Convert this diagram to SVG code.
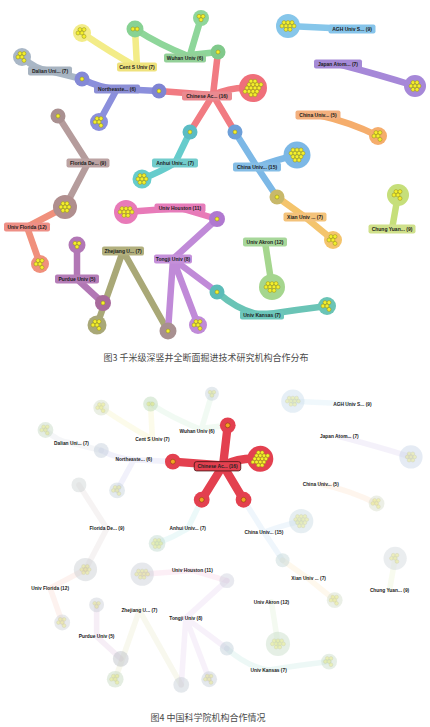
<svg xmlns="http://www.w3.org/2000/svg" xmlns:xlink="http://www.w3.org/1999/xlink" width="430" height="727" viewBox="0 0 430 727">
<style>
.y{fill:#f4ef2a;stroke:#8f8a1c;stroke-width:.5}
.e{fill:none;stroke-width:6.5;stroke-linecap:round;stroke-linejoin:round}
.lbl text{font-family:"Liberation Sans",Arial,sans-serif;font-weight:bold;font-size:5px;fill:#1c1c1c;text-anchor:middle}
.lbl rect{rx:2;ry:2;height:9px}
.fe{fill:none;stroke-width:6;stroke-linecap:round;stroke-linejoin:round;opacity:.12}
.fn circle{opacity:.45}
.fn use{opacity:.25}
.ft{font-family:"Liberation Sans",Arial,sans-serif;font-weight:bold;font-size:5.2px;fill:#222;text-anchor:middle}
.re{fill:none;stroke:#e3404f;stroke-width:9;stroke-linecap:round;stroke-linejoin:round}
.od{fill:#f3a520;stroke:#8a3412;stroke-width:.6}
.cap{font-family:"Noto Sans CJK SC","Noto Sans",sans-serif;font-size:9px;fill:#4a4a4a;text-anchor:middle}
</style>
<defs>
<circle id="yd" r="2" class="y"/>
<g id="c1"><use href="#yd"/></g>
<g id="c2"><use href="#yd" x="-2.1"/><use href="#yd" x="2.1"/></g>
<g id="c3"><use href="#yd" x="-2" y="-1.7"/><use href="#yd" x="2" y="-1.7"/><use href="#yd" x="0" y="1.8"/></g>
<g id="c5"><use href="#yd" x="-2" y="-3.4"/><use href="#yd" x="2" y="-3.4"/><use href="#yd" x="-4" y="0"/><use href="#yd" x="0" y="0"/><use href="#yd" x="2" y="3.4"/></g>
<g id="c7"><use href="#yd" x="-2" y="-3.4"/><use href="#yd" x="2" y="-3.4"/><use href="#yd" x="-4" y="0"/><use href="#yd" x="0" y="0"/><use href="#yd" x="4" y="0"/><use href="#yd" x="-2" y="3.4"/><use href="#yd" x="2" y="3.4"/></g>
<g id="c9"><use href="#yd" x="-4" y="-3.4"/><use href="#yd" x="0" y="-3.4"/><use href="#yd" x="4" y="-3.4"/><use href="#yd" x="-6" y="0"/><use href="#yd" x="-2" y="0"/><use href="#yd" x="2" y="0"/><use href="#yd" x="6" y="0"/><use href="#yd" x="-2" y="3.4"/><use href="#yd" x="2" y="3.4"/></g>
<g id="c12"><use href="#yd" x="-4" y="-5.1"/><use href="#yd" x="0" y="-5.1"/><use href="#yd" x="4" y="-5.1"/><use href="#yd" x="-6" y="-1.7"/><use href="#yd" x="-2" y="-1.7"/><use href="#yd" x="2" y="-1.7"/><use href="#yd" x="6" y="-1.7"/><use href="#yd" x="-4" y="1.7"/><use href="#yd" x="0" y="1.7"/><use href="#yd" x="4" y="1.7"/><use href="#yd" x="-2" y="5.1"/><use href="#yd" x="2" y="5.1"/></g>
<g id="c16"><use href="#yd" x="-2" y="-6.8"/><use href="#yd" x="2" y="-6.8"/><use href="#yd" x="-4" y="-3.4"/><use href="#yd" x="0" y="-3.4"/><use href="#yd" x="4" y="-3.4"/><use href="#yd" x="-6" y="0"/><use href="#yd" x="-2" y="0"/><use href="#yd" x="2" y="0"/><use href="#yd" x="6" y="0"/><use href="#yd" x="-4" y="3.4"/><use href="#yd" x="0" y="3.4"/><use href="#yd" x="4" y="3.4"/><use href="#yd" x="-2" y="6.8"/><use href="#yd" x="2" y="6.8"/><use href="#yd" x="8" y="-3.4"/><use href="#yd" x="-8" y="3.4"/></g>
</defs>
<rect width="430" height="727" fill="#ffffff"/>

<!-- ================= FIGURE 3 ================= -->
<g id="fig3">
<g id="connectors">
<path class="e" stroke="#f17b82" d="M213,95 L218,52 M213,95 L159,91 M213,95 Q232,86 253,88 M213,95 L190,132 M213,95 L235,132"/>
<path class="e" stroke="#8ed69a" d="M135,29 Q160,45 188,56 M201,18 Q195,38 190,55 M190,55 L218,52"/>
<path class="e" stroke="#f3ec88" d="M82,33 Q110,52 137,67 M137,67 L135,29"/>
<path class="e" stroke="#a9b7c6" d="M22,57 Q36,70 50,71 L82,79"/>
<path class="e" stroke="#8b8fdc" d="M82,79 Q100,88 117,89 L159,91 M117,89 L99,122"/>
<path class="e" stroke="#66cccc" d="M190,132 L175,163 Q160,172 142,179"/>
<path class="e" stroke="#7cb8e6" d="M235,132 L257,167 Q275,160 297,155 M257,167 L277,197"/>
<path class="e" stroke="#f4c46c" d="M277,197 L305,217 L333,240"/>
<path class="e" stroke="#86c6ea" d="M288,26 L352,29"/>
<path class="e" stroke="#a688d8" d="M338,64 Q380,75 415,86"/>
<path class="e" stroke="#f5ad6c" d="M318,115 Q350,122 378,136"/>
<path class="e" stroke="#c6df7a" d="M398,195 L392,229"/>
<path class="e" stroke="#a5d68e" d="M265,242 L272,287"/>
<path class="e" stroke="#6ac4b6" d="M217,292 Q240,312 262,315 Q295,310 327,306"/>
<path class="e" stroke="#b59c9c" d="M58,116 L88,163 L65,207"/>
<path class="e" stroke="#f0907c" d="M65,207 L27,227 L40,264"/>
<path class="e" stroke="#b277b5" d="M77,245 L77,279 L103,303"/>
<path class="e" stroke="#a9a877" d="M123,251 L97,325 M123,251 L168,331"/>
<path class="e" stroke="#e87ab8" d="M126,212 L180,208 L217,219"/>
<path class="e" stroke="#c08ad8" d="M217,219 L173,259 M173,259 L168,331 M173,259 L198,325 M173,259 L217,292"/>
</g>

<!-- cluster / junction nodes -->
<g id="n-red-cluster" transform="translate(253,88)"><circle r="14" fill="#ef6f7a"/><use href="#c16"/></g>
<g id="n-wuhan-dot" transform="translate(218,52)"><circle r="7.5" fill="#80c98b"/><use href="#c1"/></g>
<g id="n-ne-dot" transform="translate(159,91)"><circle r="7.5" fill="#7f84d2"/><use href="#c1"/></g>
<g id="n-anhui-dot" transform="translate(190,132)"><circle r="7.5" fill="#5bbcc4"/><use href="#c1"/></g>
<g id="n-china15-dot" transform="translate(235,132)"><circle r="7.5" fill="#6d9fd8"/><use href="#c1"/></g>
<g id="n-wuhan-c1" transform="translate(135,29)"><circle r="8.5" fill="#88d293"/><use href="#c2"/></g>
<g id="n-wuhan-c2" transform="translate(201,18)"><circle r="8" fill="#8ed69a"/><use href="#c3"/></g>
<g id="n-cents-c" transform="translate(82,33)"><circle r="9" fill="#f3ec88"/><use href="#c5"/></g>
<g id="n-dalian-c" transform="translate(22,57)"><circle r="9" fill="#a9b7c6"/><use href="#c5"/></g>
<g id="n-dalian-dot" transform="translate(82,79)"><circle r="7.5" fill="#8489d6"/><use href="#c1"/></g>
<g id="n-ne-c" transform="translate(99,122)"><circle r="9" fill="#8b8fdc"/><use href="#c5"/></g>
<g id="n-anhui-c" transform="translate(142,179)"><circle r="9.5" fill="#66cccc"/><use href="#c7"/></g>
<g id="n-china15-c" transform="translate(297,155)"><circle r="13.5" fill="#7cb8e6"/><use href="#c12"/></g>
<g id="n-xian-dot" transform="translate(277,197)"><circle r="7.5" fill="#c8b86a"/><use href="#c1"/></g>
<g id="n-xian-c" transform="translate(333,240)"><circle r="9" fill="#f4c46c"/><use href="#c5"/></g>
<g id="n-agh-c" transform="translate(288,26)"><circle r="12" fill="#86c6ea"/><use href="#c9"/></g>
<g id="n-japan-c" transform="translate(415,86)"><circle r="11" fill="#a688d8"/><use href="#c7"/></g>
<g id="n-china5-c" transform="translate(378,136)"><circle r="9" fill="#f5ad6c"/><use href="#c5"/></g>
<g id="n-chung-c" transform="translate(398,195)"><circle r="11" fill="#c6df7a"/><use href="#c5"/></g>
<g id="n-akron-c" transform="translate(272,287)"><circle r="13" fill="#a5d68e"/><use href="#c9"/></g>
<g id="n-kansas-dot" transform="translate(217,292)"><circle r="7.5" fill="#5cbcb8"/><use href="#c1"/></g>
<g id="n-kansas-c" transform="translate(327,306)"><circle r="9" fill="#6ac4b6"/><use href="#c5"/></g>
<g id="n-flde-dot" transform="translate(58,116)"><circle r="7.5" fill="#a99090"/><use href="#c1"/></g>
<g id="n-flde-c" transform="translate(65,207)"><circle r="12" fill="#b08e8e"/><use href="#c7"/></g>
<g id="n-ufl-c" transform="translate(40,264)"><circle r="9" fill="#f0907c"/><use href="#c5"/></g>
<g id="n-purdue-c" transform="translate(77,245)"><circle r="8.5" fill="#b277b5"/><use href="#c3"/></g>
<g id="n-purdue-dot" transform="translate(103,303)"><circle r="8" fill="#a86a9c"/><use href="#c1"/></g>
<g id="n-zj-c" transform="translate(97,325)"><circle r="9.5" fill="#a9a877"/><use href="#c5"/></g>
<g id="n-zj-dot" transform="translate(168,331)"><circle r="8.5" fill="#a89090"/><use href="#c1"/></g>
<g id="n-houston-c" transform="translate(126,212)"><circle r="12" fill="#e87ab8"/><use href="#c9"/></g>
<g id="n-houston-dot" transform="translate(217,219)"><circle r="8" fill="#b078d0"/><use href="#c1"/></g>
<g id="n-tongji-c" transform="translate(198,325)"><circle r="9" fill="#c08ad8"/><use href="#c5"/></g>

<!-- institution labels -->
<g id="l-chinese" class="lbl"><rect x="182" y="91.5" width="50" fill="#ea8a90"/><text x="207" y="97.8">Chinese Ac... (16)</text></g>
<g id="l-wuhan" class="lbl"><rect x="164" y="53.5" width="42" fill="#93d098"/><text x="185" y="59.8">Wuhan Univ (6)</text></g>
<g id="l-cents" class="lbl"><rect x="117" y="62.5" width="40" fill="#efe27c"/><text x="137" y="68.8">Cent S Univ (7)</text></g>
<g id="l-dalian" class="lbl"><rect x="28" y="66.5" width="44" fill="#a7b3c0"/><text x="50" y="72.8">Dalian Uni... (7)</text></g>
<g id="l-ne" class="lbl"><rect x="94" y="84.5" width="46" fill="#8c8fd6"/><text x="117" y="90.8">Northeaste... (6)</text></g>
<g id="l-anhui" class="lbl"><rect x="152" y="158.5" width="46" fill="#72cccc"/><text x="175" y="164.8">Anhui Univ... (7)</text></g>
<g id="l-china15" class="lbl"><rect x="233" y="162.5" width="48" fill="#84bde6"/><text x="257" y="168.8">China Univ... (15)</text></g>
<g id="l-xian" class="lbl"><rect x="283.5" y="212.5" width="43" fill="#f3c27a"/><text x="305" y="218.8">Xian Univ ... (7)</text></g>
<g id="l-agh" class="lbl"><rect x="328.5" y="24.5" width="47" fill="#86c4ea"/><text x="352" y="30.8">AGH Univ S... (9)</text></g>
<g id="l-japan" class="lbl"><rect x="314" y="59.5" width="48" fill="#a58ad6"/><text x="338" y="65.8">Japan Atom... (7)</text></g>
<g id="l-china5" class="lbl"><rect x="295.5" y="110.5" width="45" fill="#f3b07e"/><text x="318" y="116.8">China Univ... (5)</text></g>
<g id="l-chung" class="lbl"><rect x="368.5" y="224.5" width="47" fill="#cfe08a"/><text x="392" y="230.8">Chung Yuan... (9)</text></g>
<g id="l-akron" class="lbl"><rect x="243" y="237.5" width="44" fill="#a7d79a"/><text x="265" y="243.8">Univ Akron (12)</text></g>
<g id="l-kansas" class="lbl"><rect x="240" y="310.5" width="44" fill="#6cc6ba"/><text x="262" y="316.8">Univ Kansas (7)</text></g>
<g id="l-flde" class="lbl"><rect x="66.5" y="158.5" width="43" fill="#bca3a3"/><text x="88" y="164.8">Florida De... (9)</text></g>
<g id="l-ufl" class="lbl"><rect x="4" y="222.5" width="46" fill="#ee8f86"/><text x="27" y="228.8">Univ Florida (12)</text></g>
<g id="l-purdue" class="lbl"><rect x="55" y="274.5" width="44" fill="#b57db8"/><text x="77" y="280.8">Purdue Univ (5)</text></g>
<g id="l-zj" class="lbl"><rect x="102" y="246.5" width="42" fill="#b2b07e"/><text x="123" y="252.8">Zhejiang U... (7)</text></g>
<g id="l-houston" class="lbl"><rect x="154.5" y="203.5" width="51" fill="#e67cba"/><text x="180" y="209.8">Univ Houston (11)</text></g>
<g id="l-tongji" class="lbl"><rect x="154" y="254.5" width="38" fill="#c590da"/><text x="173" y="260.8">Tongji Univ (8)</text></g>

<text id="cap3" class="cap" x="206" y="360.5">图3  千米级深竖井全断面掘进技术研究机构合作分布</text>
</g>

<!-- ================= FIGURE 4 ================= -->
<g id="fig4" transform="translate(25,377) scale(0.93)">
<g id="connectors-faded">
<path class="fe" stroke="#8ed69a" d="M135,29 Q160,45 188,56 M201,18 Q195,38 190,55 M190,55 L218,52"/>
<path class="fe" stroke="#e5dc50" d="M82,33 Q110,52 137,67 M137,67 L135,29"/>
<path class="fe" stroke="#a9b7c6" d="M22,57 Q36,70 50,71 L82,79"/>
<path class="fe" stroke="#8b8fdc" d="M82,79 Q100,88 117,89 L159,91 M117,89 L99,122"/>
<path class="fe" stroke="#66cccc" d="M190,132 L175,163 Q160,172 142,179"/>
<path class="fe" stroke="#7cb8e6" d="M235,132 L257,167 Q275,160 297,155 M257,167 L277,197"/>
<path class="fe" stroke="#f4c46c" d="M277,197 L305,217 L333,240"/>
<path class="fe" stroke="#86c6ea" d="M288,26 L352,29"/>
<path class="fe" stroke="#a688d8" d="M338,64 Q380,75 415,86"/>
<path class="fe" stroke="#f5ad6c" d="M318,115 Q350,122 378,136"/>
<path class="fe" stroke="#c6df7a" d="M398,195 L392,229"/>
<path class="fe" stroke="#a5d68e" d="M265,242 L272,287"/>
<path class="fe" stroke="#6ac4b6" d="M217,292 Q240,312 262,315 Q295,310 327,306"/>
<path class="fe" stroke="#b59c9c" d="M58,116 L88,163 L65,207"/>
<path class="fe" stroke="#f0907c" d="M65,207 L27,227 L40,264"/>
<path class="fe" stroke="#b277b5" d="M77,245 L77,279 L103,303"/>
<path class="fe" stroke="#c9c870" d="M123,251 L97,325 M123,251 L168,331"/>
<path class="fe" stroke="#e87ab8" d="M126,212 L180,208 L217,219"/>
<path class="fe" stroke="#c08ad8" d="M217,219 L173,259 M173,259 L168,331 M173,259 L198,325 M173,259 L217,292"/>
</g>
<g id="b-faded-nodes" class="fn">
<g id="b-wuhan-c1" transform="translate(135,29)"><circle r="8" fill="#b8d8b4"/><use href="#c2"/></g>
<g id="b-wuhan-c2" transform="translate(201,18)"><circle r="7.5" fill="#c4d0da"/><use href="#c3"/></g>
<g id="b-cents-c" transform="translate(82,33)"><circle r="8.5" fill="#d0dcc4"/><use href="#c5"/></g>
<g id="b-dalian-c" transform="translate(22,57)"><circle r="8.5" fill="#c4d6c0"/><use href="#c5"/></g>
<g id="b-dalian-dot" transform="translate(82,79)"><circle r="8" fill="#c0ccda"/></g>
<g id="b-ne-c" transform="translate(99,122)"><circle r="8.5" fill="#c4d0da"/><use href="#c5"/></g>
<g id="b-flde-dot" transform="translate(58,116)"><circle r="8" fill="#cdd2d2"/></g>
<g id="b-anhui-c" transform="translate(142,179)"><circle r="9" fill="#bcd8cc"/><use href="#c7"/></g>
<g id="b-china15-c" transform="translate(297,155)"><circle r="13" fill="#c8dae2"/><use href="#c12"/></g>
<g id="b-xian-dot" transform="translate(277,197)"><circle r="7.5" fill="#c0d4d4"/></g>
<g id="b-xian-c" transform="translate(333,240)"><circle r="8.5" fill="#d0dcc8"/><use href="#c5"/></g>
<g id="b-agh-c" transform="translate(288,26)"><circle r="12.5" fill="#c8dcea"/><use href="#c9"/></g>
<g id="b-japan-c" transform="translate(415,86)"><circle r="12.5" fill="#c6d2e6"/><use href="#c7"/></g>
<g id="b-china5-c" transform="translate(378,136)"><circle r="8.5" fill="#d4dcc8"/><use href="#c5"/></g>
<g id="b-chung-c" transform="translate(398,195)"><circle r="12.5" fill="#d0d6dc"/><use href="#c5"/></g>
<g id="b-akron-c" transform="translate(272,287)"><circle r="13" fill="#c6dcc6"/><use href="#c9"/></g>
<g id="b-kansas-dot" transform="translate(217,292)"><circle r="7.5" fill="#bcccd8"/></g>
<g id="b-kansas-c" transform="translate(327,306)"><circle r="8.5" fill="#c8dcc8"/><use href="#c5"/></g>
<g id="b-flde-c" transform="translate(65,207)"><circle r="12.5" fill="#c8ccd0"/><use href="#c7"/></g>
<g id="b-ufl-c" transform="translate(40,264)"><circle r="8.5" fill="#cdd0d4"/><use href="#c5"/></g>
<g id="b-purdue-c" transform="translate(77,245)"><circle r="8" fill="#c8ccd4"/><use href="#c3"/></g>
<g id="b-purdue-dot" transform="translate(103,303)"><circle r="8.5" fill="#b8bcc4"/></g>
<g id="b-zj-c" transform="translate(97,325)"><circle r="9" fill="#c4d8bc"/><use href="#c5"/></g>
<g id="b-zj-dot" transform="translate(168,331)"><circle r="8.5" fill="#c4ccd4"/></g>
<g id="b-houston-c" transform="translate(126,212)"><circle r="12.5" fill="#c8ccd4"/><use href="#c9"/></g>
<g id="b-houston-dot" transform="translate(217,219)"><circle r="8" fill="#cccfdc"/></g>
<g id="b-tongji-c" transform="translate(198,325)"><circle r="8.5" fill="#c4ccd4"/><use href="#c5"/></g>
</g>
<g id="connectors-red">
<path class="re" d="M213,95 L218,52 M213,95 L159,91 M213,95 Q232,86 253,88 M213,95 L190,132 M213,95 L235,132"/>
</g>
<g id="b-red-cluster" transform="translate(253,88)"><circle r="14" fill="#e3404f"/><use href="#c16"/></g>
<g id="b-wuhan-dot" transform="translate(218,52)"><circle r="8.5" fill="#e3404f"/><circle r="2.6" class="od"/></g>
<g id="b-ne-dot" transform="translate(159,91)"><circle r="8.5" fill="#e3404f"/><circle r="2.6" class="od"/></g>
<g id="b-anhui-dot" transform="translate(190,132)"><circle r="8.5" fill="#e3404f"/><circle r="2.6" class="od"/></g>
<g id="b-china-dot" transform="translate(235,132)"><circle r="8.5" fill="#e3404f"/><circle r="2.6" class="od"/></g>
<g id="b-l-chinese"><rect x="182" y="91" width="50" height="10" rx="2.5" fill="#e3404f" stroke="#4a1515" stroke-width=".9"/><text class="ft" x="207" y="97.8">Chinese Ac... (16)</text></g>
<g id="b-labels">
<text id="b-l-wuhan" class="ft" x="185" y="59.8">Wuhan Univ (6)</text>
<text id="b-l-cents" class="ft" x="137" y="68.8">Cent S Univ (7)</text>
<text id="b-l-dalian" class="ft" x="50" y="72.8">Dalian Uni... (7)</text>
<text id="b-l-ne" class="ft" x="117" y="90.8">Northeaste... (6)</text>
<text id="b-l-anhui" class="ft" x="175" y="164.8">Anhui Univ... (7)</text>
<text id="b-l-china15" class="ft" x="257" y="168.8">China Univ... (15)</text>
<text id="b-l-xian" class="ft" x="305" y="218.8">Xian Univ ... (7)</text>
<text id="b-l-agh" class="ft" x="352" y="30.8">AGH Univ S... (9)</text>
<text id="b-l-japan" class="ft" x="338" y="65.8">Japan Atom... (7)</text>
<text id="b-l-china5" class="ft" x="318" y="116.8">China Univ... (5)</text>
<text id="b-l-chung" class="ft" x="392" y="230.8">Chung Yuan... (9)</text>
<text id="b-l-akron" class="ft" x="265" y="243.8">Univ Akron (12)</text>
<text id="b-l-kansas" class="ft" x="262" y="316.8">Univ Kansas (7)</text>
<text id="b-l-flde" class="ft" x="88" y="164.8">Florida De... (9)</text>
<text id="b-l-ufl" class="ft" x="27" y="228.8">Univ Florida (12)</text>
<text id="b-l-purdue" class="ft" x="77" y="280.8">Purdue Univ (5)</text>
<text id="b-l-zj" class="ft" x="123" y="252.8">Zhejiang U... (7)</text>
<text id="b-l-houston" class="ft" x="180" y="209.8">Univ Houston (11)</text>
<text id="b-l-tongji" class="ft" x="173" y="260.8">Tongji Univ (8)</text>
</g>
</g>
<text id="cap4" class="cap" x="208" y="720.5">图4  中国科学院机构合作情况</text>
</svg>
